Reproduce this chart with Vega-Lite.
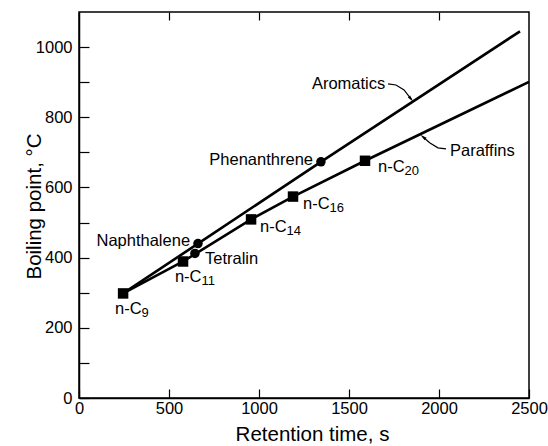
{
  "$schema": "https://vega.github.io/schema/vega-lite/v6.json",
  "width": 450,
  "height": 386,
  "autosize": {"type": "none"},
  "padding": {"left": 79, "top": 12, "right": 19, "bottom": 48},
  "config": {
    "font": "Liberation Sans",
    "view": {"stroke": "#000", "strokeWidth": 1.5},
    "axis": {
      "grid": false,
      "domainColor": "#000",
      "domainWidth": 1.5,
      "tickColor": "#000",
      "tickWidth": 1.2,
      "labelColor": "#000",
      "titleColor": "#000",
      "labelFontSize": 16.5,
      "titleFontSize": 20.5,
      "titleFontWeight": "normal",
      "labelFlush": false,
      "format": "d"
    }
  },
  "datasets": {
    "lines": [
      {"series": "Aromatics", "ord": 1, "t": 245, "bp": 298},
      {"series": "Aromatics", "ord": 2, "t": 661, "bp": 440},
      {"series": "Aromatics", "ord": 3, "t": 1344, "bp": 673},
      {"series": "Aromatics", "ord": 4, "t": 2450, "bp": 1045},
      {"series": "Paraffins", "ord": 1, "t": 245, "bp": 298},
      {"series": "Paraffins", "ord": 2, "t": 578, "bp": 389},
      {"series": "Paraffins", "ord": 3, "t": 956, "bp": 509},
      {"series": "Paraffins", "ord": 4, "t": 1189, "bp": 574},
      {"series": "Paraffins", "ord": 5, "t": 1589, "bp": 676},
      {"series": "Paraffins", "ord": 6, "t": 2500, "bp": 901}
    ],
    "leaders": [
      {"series": "Aromatics", "ord": 1, "t": 1717, "bp": 895},
      {"series": "Aromatics", "ord": 2, "t": 1761, "bp": 892},
      {"series": "Aromatics", "ord": 3, "t": 1806, "bp": 878},
      {"series": "Aromatics", "ord": 4, "t": 1845, "bp": 852},
      {"series": "Paraffins", "ord": 1, "t": 2039, "bp": 710},
      {"series": "Paraffins", "ord": 2, "t": 1994, "bp": 713},
      {"series": "Paraffins", "ord": 3, "t": 1950, "bp": 727},
      {"series": "Paraffins", "ord": 4, "t": 1911, "bp": 744}
    ],
    "compounds": [
      {"name": "n-C9", "type": "Paraffin", "t": 245, "bp": 298},
      {"name": "n-C11", "type": "Paraffin", "t": 578, "bp": 389},
      {"name": "n-C14", "type": "Paraffin", "t": 956, "bp": 509},
      {"name": "n-C16", "type": "Paraffin", "t": 1189, "bp": 574},
      {"name": "n-C20", "type": "Paraffin", "t": 1589, "bp": 676},
      {"name": "Tetralin", "type": "Aromatic", "t": 644, "bp": 412},
      {"name": "Naphthalene", "type": "Aromatic", "t": 661, "bp": 440},
      {"name": "Phenanthrene", "type": "Aromatic", "t": 1344, "bp": 673}
    ],
    "labels": [
      {"text": "n-C", "sub": "9", "t": 200, "bp": 253},
      {"text": "n-C", "sub": "11", "t": 533, "bp": 344},
      {"text": "n-C", "sub": "14", "t": 1006, "bp": 486},
      {"text": "n-C", "sub": "16", "t": 1245, "bp": 554},
      {"text": "n-C", "sub": "20", "t": 1661, "bp": 659},
      {"text": "Tetralin", "t": 700, "bp": 395},
      {"text": "Aromatics", "t": 1294, "bp": 895},
      {"text": "Paraffins", "t": 2061, "bp": 705}
    ],
    "rightLabels": [
      {"text": "Naphthalene", "t": 617, "bp": 446},
      {"text": "Phenanthrene", "t": 1300, "bp": 679}
    ]
  },
  "encoding": {
    "y": {
      "field": "bp",
      "type": "quantitative",
      "scale": {"domain": [0, 1100], "nice": false, "zero": false},
      "axis": {
        "title": "Boiling point, °C",
        "values": [0, 100, 200, 300, 400, 500, 600, 700, 800, 900, 1000],
        "labelExpr": "datum.value % 200 === 0 ? datum.label : ''",
        "tickSize": -10,
        "labelPadding": 17,
        "titleX": -39,
        "titleY": 194,
        "titleBaseline": "alphabetic",
        "titleAlign": "center",
        "titleAngle": -90
      }
    }
  },
  "layer": [
    {
      "data": {"name": "lines"},
      "mark": {"type": "line", "color": "#000", "strokeWidth": 2.6},
      "encoding": {
        "x": {
          "field": "t",
          "type": "quantitative",
          "scale": {"domain": [0, 2500], "nice": false, "zero": false},
          "axis": {
            "title": "Retention time, s",
            "values": [0, 500, 1000, 1500, 2000, 2500],
            "tickSize": -9,
            "labelPadding": 11,
            "titleX": 233,
            "titleY": 42,
            "titleBaseline": "alphabetic"
          }
        },
        "detail": {"field": "series"},
        "order": {"field": "ord", "type": "quantitative"}
      }
    },
    {
      "data": {"name": "compounds"},
      "mark": {"type": "point", "filled": true, "color": "#000", "opacity": 1},
      "encoding": {
        "x": {
          "field": "t",
          "type": "quantitative",
          "axis": {
            "orient": "top",
            "values": [500, 1000, 1500, 2000],
            "tickSize": -8,
            "labels": false,
            "title": null,
            "domain": false
          }
        },
        "shape": {
          "field": "type",
          "type": "nominal",
          "scale": {"domain": ["Paraffin", "Aromatic"], "range": ["square", "circle"]},
          "legend": null
        },
        "size": {
          "field": "type",
          "type": "nominal",
          "scale": {"domain": ["Paraffin", "Aromatic"], "range": [110, 90]},
          "legend": null
        }
      }
    },
    {
      "data": {"name": "leaders"},
      "mark": {"type": "line", "color": "#000", "strokeWidth": 1.2},
      "encoding": {
        "x": {"field": "t", "type": "quantitative", "axis": null},
        "detail": {"field": "series"},
        "order": {"field": "ord", "type": "quantitative"}
      }
    },
    {
      "data": {"name": "leaders"},
      "transform": [{"filter": "datum.series === 'Aromatics' && datum.ord === 4"}],
      "mark": {"type": "point", "filled": true, "color": "#000", "opacity": 1, "shape": "M0,-1L0.45,1L-0.45,1Z", "size": 45, "angle": 140},
      "encoding": {"x": {"field": "t", "type": "quantitative", "axis": null}}
    },
    {
      "data": {"name": "leaders"},
      "transform": [{"filter": "datum.series === 'Paraffins' && datum.ord === 4"}],
      "mark": {"type": "point", "filled": true, "color": "#000", "opacity": 1, "shape": "M0,-1L0.45,1L-0.45,1Z", "size": 45, "angle": 308},
      "encoding": {"x": {"field": "t", "type": "quantitative", "axis": null}}
    },
    {
      "data": {"name": "labels"},
      "mark": {"type": "text", "align": "left", "baseline": "middle", "fontSize": 16.5, "color": "#000"},
      "encoding": {
        "x": {"field": "t", "type": "quantitative", "axis": null},
        "text": {"field": "text"}
      }
    },
    {
      "data": {"name": "labels"},
      "transform": [{"filter": "isValid(datum.sub)"}],
      "mark": {"type": "text", "align": "left", "baseline": "middle", "fontSize": 13, "dx": 26.5, "dy": 4, "color": "#000"},
      "encoding": {
        "x": {"field": "t", "type": "quantitative", "axis": null},
        "text": {"field": "sub"}
      }
    },
    {
      "data": {"name": "rightLabels"},
      "mark": {"type": "text", "align": "right", "baseline": "middle", "fontSize": 16.5, "color": "#000"},
      "encoding": {
        "x": {"field": "t", "type": "quantitative", "axis": null},
        "text": {"field": "text"}
      }
    }
  ],
  "resolve": {"axis": {"x": "independent"}}
}
